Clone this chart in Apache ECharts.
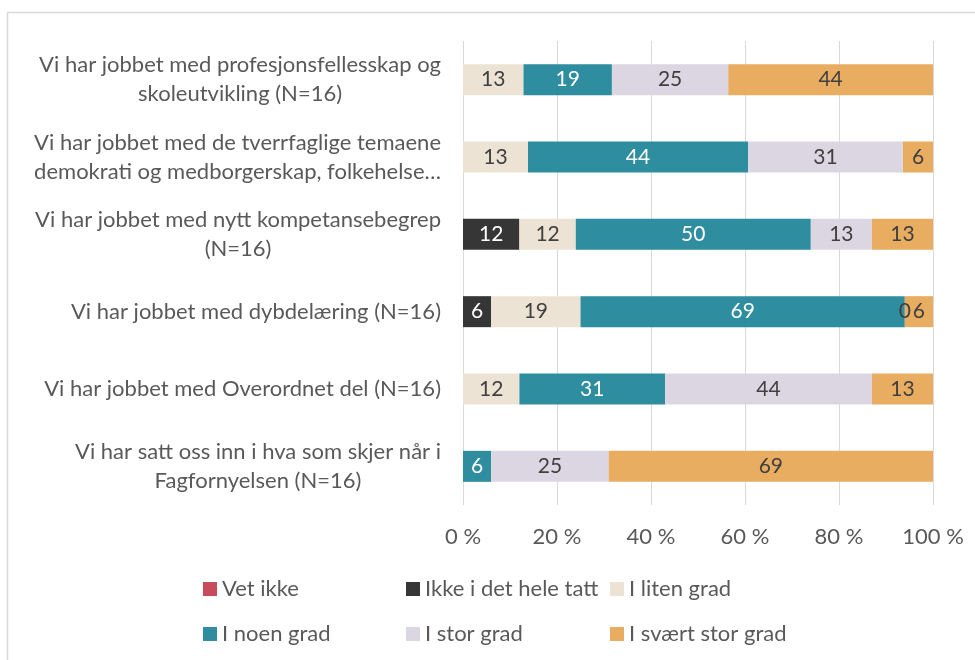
<!DOCTYPE html>
<html><head><meta charset="utf-8">
<script src="https://cdn.jsdelivr.net/npm/echarts@6/dist/echarts.min.js"></script>
<style>html,body{margin:0;padding:0;background:#fff}#c{width:975px;height:660px}</style>
</head><body><div id="c"></div>
<script>
const categories = [
  'Vi har jobbet med profesjonsfellesskap og\nskoleutvikling (N=16)',
  'Vi har jobbet med de tverrfaglige temaene\ndemokrati og medborgerskap, folkehelse…',
  'Vi har jobbet med nytt kompetansebegrep\n(N=16)',
  'Vi har jobbet med dybdelæring (N=16)',
  'Vi har jobbet med Overordnet del (N=16)',
  'Vi har satt oss inn i hva som skjer når i\nFagfornyelsen (N=16)'
];
const seriesNames = ['Vet ikke', 'Ikke i det hele tatt', 'I liten grad', 'I noen grad', 'I stor grad', 'I svært stor grad'];
const vetIkke          = [null, null, null, null, null, null];
const ikkeIDetHeleTatt = [null, null, 12, 6, null, null];
const iLitenGrad       = [13, 13, 12, 19, 12, null];
const iNoenGrad        = [19, 44, 50, 69, 31, 6];
const iStorGrad        = [25, 31, 13, 0, 44, 25];
const iSvaertStorGrad  = [44, 6, 13, 6, 13, 69];
const xTickLabels = ['0 %', '20 %', '40 %', '60 %', '80 %', '100 %'];

const colors = ['#c94a5a', '#363636', '#ede3d4', '#2e8d9e', '#dcd5e2', '#e9ad62'];
const labelColors = ['#ffffff', '#ffffff', '#404040', '#ffffff', '#404040', '#404040'];
const raw = [vetIkke, ikkeIDetHeleTatt, iLitenGrad, iNoenGrad, iStorGrad, iSvaertStorGrad];
const rowSums = categories.map((c, i) => raw.reduce((s, arr) => s + (arr[i] || 0), 0));
const FONT = 'Lato';
const TXT = '#595959';

const series = raw.map((arr, si) => ({
  name: seriesNames[si],
  type: 'bar',
  stack: 'total',
  barWidth: 31,
  itemStyle: { color: colors[si] },
  label: {
    show: true,
    position: 'inside',
    color: labelColors[si],
    fontFamily: FONT,
    fontSize: 21,
    formatter: p => { const v = arr[p.dataIndex]; return v == null ? '' : String(v); }
  },
  emphasis: { disabled: true },
  data: arr.map((v, i) => v == null ? null : v / rowSums[i] * 100)
}));

const legendPos = [[203, 578], [406, 578], [610, 578], [203, 623], [406, 623], [610, 623]];
const legends = seriesNames.map((n, i) => ({
  data: [n],
  left: legendPos[i][0],
  top: legendPos[i][1],
  icon: 'rect',
  itemWidth: 14,
  itemHeight: 14,
  itemGap: 0,
  padding: 0,
  selectedMode: false,
  textStyle: { fontFamily: FONT, fontSize: 22, color: TXT }
}));

const chart = echarts.init(document.getElementById('c'), null, { renderer: 'canvas' });
chart.setOption({
  animation: false,
  backgroundColor: '#ffffff',
  textStyle: { fontFamily: FONT },
  graphic: [{
    type: 'polyline',
    shape: { points: [[7.5, 660], [7.5, 12.5], [975, 12.5]] },
    style: { stroke: '#d9d9d9', lineWidth: 1.5, fill: null },
    silent: true
  }],
  legend: legends,
  grid: { left: 463, right: 42, top: 41, bottom: 155, containLabel: false },
  xAxis: {
    type: 'value',
    min: 0, max: 100, interval: 20,
    axisLine: { show: false },
    axisTick: { show: false },
    splitLine: { show: true, lineStyle: { color: '#d9d9d9', width: 1 } },
    axisLabel: {
      margin: 21,
      color: TXT,
      fontFamily: FONT,
      fontSize: 22,
      formatter: v => xTickLabels[Math.round(v / 20)]
    }
  },
  yAxis: {
    type: 'category',
    inverse: true,
    data: categories,
    axisLine: { show: false },
    axisTick: { show: false },
    splitLine: { show: false },
    axisLabel: {
      margin: 22,
      color: TXT,
      fontFamily: FONT,
      fontSize: 22,
      lineHeight: 29,
      formatter: v => v.split('\n').map(l => '{c|' + l + '}').join('\n'),
      rich: { c: { align: 'center', fontFamily: FONT, fontSize: 22, color: TXT, lineHeight: 29 } }
    }
  },
  series: series
});
</script>
</body></html>
